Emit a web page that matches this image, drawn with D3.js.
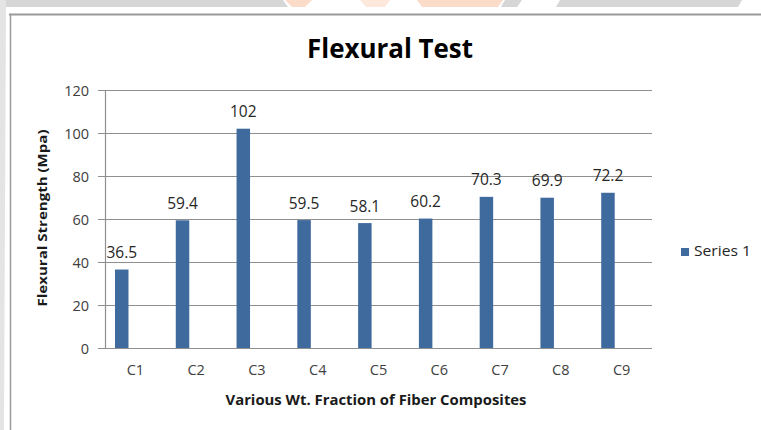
<!DOCTYPE html>
<html>
<head>
<meta charset="utf-8">
<script src="https://cdn.jsdelivr.net/npm/d3@7"></script>
<style>
  html, body { margin: 0; padding: 0; background: #ffffff; }
  svg { display: block; }
  text { font-family: "Open Sans", "Noto Sans", sans-serif; }
</style>
</head>
<body>
<script>
// ---- data ----
const categories = ["C1", "C2", "C3", "C4", "C5", "C6", "C7", "C8", "C9"];
const values = [36.5, 59.4, 102, 59.5, 58.1, 60.2, 70.3, 69.9, 72.2];
const valueLabels = ["36.5", "59.4", "102", "59.5", "58.1", "60.2", "70.3", "69.9", "72.2"];
const yTicks = [0, 20, 40, 60, 80, 100, 120];
const seriesName = "Series 1";
const chartTitle = "Flexural Test";
const xTitle = "Various Wt. Fraction of Fiber Composites";
const yTitle = "Flexural Strength (Mpa)";

const W = 761, H = 430;
const svg = d3.select("body").append("svg").attr("width", W).attr("height", H);

// background strips (page behind chart)
svg.append("rect").attr("x", 0).attr("y", 0).attr("width", W).attr("height", H).attr("fill", "#ffffff");
svg.append("path").attr("d", "M0,0 L742,0 L738,7 L0,7 Z").attr("fill", "#d6d6d6");
svg.append("path").attr("d", "M283,0 L560,0 L556,7 L288,7 Z").attr("fill", "#ffffff");
svg.append("path").attr("d", "M505,0 L522,0 L517,7 L501,7 Z").attr("fill", "#d6d6d6");
svg.append("path").attr("d", "M285,0 L312,0 L305,7 L292,7 Z").attr("fill", "#fbdcc8");
svg.append("path").attr("d", "M360,0 L390,0 L385,7 L366,7 Z").attr("fill", "#fde8db");
svg.append("path").attr("d", "M417,0 L503,0 L498,7 L422,7 Z").attr("fill", "#fbdcc8");
svg.append("path").attr("d", `M0,0 L6,0 L4,${H} L0,${H} Z`).attr("fill", "#e4e4e4");

// chart frame
svg.append("line").attr("x1", 9).attr("x2", W).attr("y1", 14.5).attr("y2", 14.5).attr("stroke", "#9a9a9a").attr("stroke-width", 2);
svg.append("line").attr("x1", 10.5).attr("x2", 10.5).attr("y1", 14).attr("y2", H).attr("stroke", "#9a9a9a").attr("stroke-width", 1.5);

// scales
const x = d3.scaleBand().domain(categories).range([105, 652]).padding(0);
const y = d3.scaleLinear().domain([0, 120]).range([348, 90]);

// gridlines
svg.append("g").selectAll("line").data(yTicks).join("line")
  .attr("x1", 98).attr("x2", 652)
  .attr("y1", d => Math.round(y(d)) + 0.5).attr("y2", d => Math.round(y(d)) + 0.5)
  .attr("stroke", "#8f8f8f").attr("stroke-width", 1.2);

// y axis line
svg.append("line").attr("x1", 105.5).attr("x2", 105.5).attr("y1", y(120)).attr("y2", y(0))
  .attr("stroke", "#8f8f8f").attr("stroke-width", 1.2);

// y tick labels via axis
const yAxis = d3.axisLeft(y).tickValues(yTicks).tickSize(0).tickPadding(0).tickFormat(d3.format("d"));
const yg = svg.append("g").attr("transform", "translate(89,0)").call(yAxis);
yg.select(".domain").remove();
yg.selectAll("text").attr("font-size", 14.5).attr("fill", "#404040")
  .attr("font-family", "'Open Sans', sans-serif").attr("dy", "0.35em");

// x tick labels via axis
const xAxis = d3.axisBottom(x).tickSize(0).tickPadding(0);
const xg = svg.append("g").attr("transform", "translate(0,365)").call(xAxis);
xg.select(".domain").remove();
xg.selectAll("text").attr("font-size", 14.5).attr("fill", "#404040")
  .attr("font-family", "'Open Sans', sans-serif").attr("dy", "0.35em").attr("y", 5);

// bars
const bw = x.bandwidth();
const barOff = bw * 0.1645, barW = bw * 0.222;
svg.append("g").selectAll("rect").data(values).join("rect")
  .attr("x", (d, i) => x(categories[i]) + barOff)
  .attr("width", barW)
  .attr("y", d => y(d))
  .attr("height", d => y(0) - y(d))
  .attr("fill", "#3f6a9e");

// data labels
svg.append("g").selectAll("text").data(values).join("text")
  .attr("x", (d, i) => x(categories[i]) + barOff + barW / 2)
  .attr("y", d => y(d) - 17)
  .attr("dy", "0.35em")
  .attr("text-anchor", "middle")
  .attr("font-size", 15.5)
  .attr("fill", "#262626")
  .text((d, i) => valueLabels[i]);

// title
svg.append("text").attr("x", 390).attr("y", 58).attr("text-anchor", "middle")
  .attr("font-size", 26).attr("font-weight", "bold").attr("fill", "#000")
  .attr("textLength", 166).attr("lengthAdjust", "spacingAndGlyphs")
  .text(chartTitle);

// x axis title
svg.append("text").attr("x", 376).attr("y", 400).attr("dy", "0.35em").attr("text-anchor", "middle")
  .attr("font-size", 14).attr("font-weight", "bold").attr("fill", "#1a1a1a")
  .attr("textLength", 301).attr("lengthAdjust", "spacingAndGlyphs")
  .text(xTitle);

// y axis title
svg.append("text").attr("transform", "translate(42,218) rotate(-90)")
  .attr("dy", "0.35em").attr("text-anchor", "middle")
  .attr("font-size", 13).attr("font-weight", "bold").attr("fill", "#1a1a1a")
  .attr("textLength", 177).attr("lengthAdjust", "spacingAndGlyphs")
  .text(yTitle);

// legend
const lg = svg.append("g");
lg.append("rect").attr("x", 681).attr("y", 248).attr("width", 8).attr("height", 8).attr("fill", "#3f6a9e");
lg.append("text").attr("x", 694).attr("y", 251).attr("dy", "0.35em")
  .attr("font-size", 14.5).attr("fill", "#262626")
  .attr("textLength", 57).attr("lengthAdjust", "spacingAndGlyphs")
  .text(seriesName);
</script>
</body>
</html>
